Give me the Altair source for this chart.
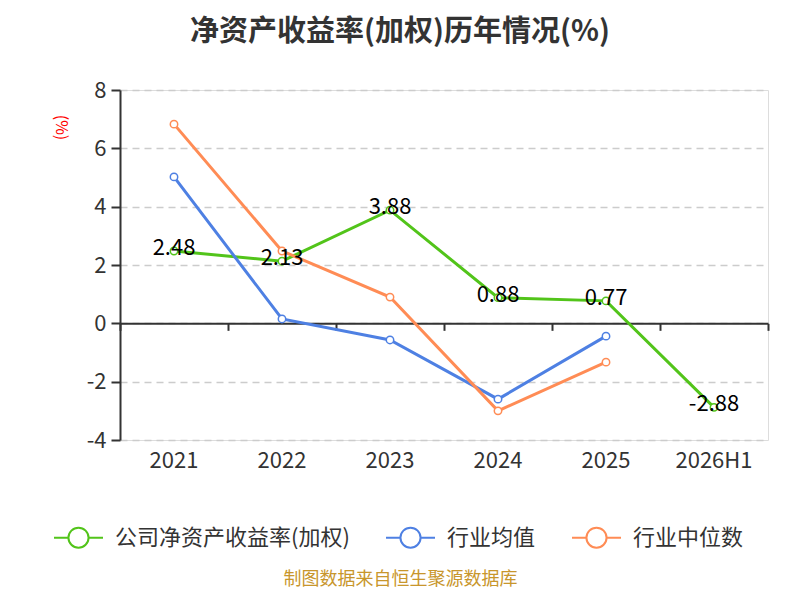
import altair as alt
import pandas as pd

periods = ["2021", "2022", "2023", "2024", "2025", "2026H1"]
series_names = ["公司净资产收益率(加权)", "行业均值", "行业中位数"]
company = [2.48, 2.13, 3.88, 0.88, 0.77, -2.88]
ind_avg = [5.02, 0.15, -0.57, -2.6, -0.44, None]
ind_med = [6.83, 2.48, 0.9, -3.0, -1.33, None]
colors = ["#52c41a", "#4e80e3", "#ff8c55"]

rows = []
for name, vals in zip(series_names, [company, ind_avg, ind_med]):
    for p, v in zip(periods, vals):
        if v is not None:
            rows.append({"period": p, "value": v, "series": name})
df = pd.DataFrame(rows)
lab = pd.DataFrame({"period": periods, "value": company,
                    "label": [f"{v:.2f}" for v in company]})

W, H = 648, 350
FONT = "Noto Sans CJK SC"

xscale = alt.Scale(type="band", domain=periods, paddingInner=0, paddingOuter=0)
yscale = alt.Scale(domain=[-4, 8], nice=False)
stroke = alt.Stroke("series:N", scale=alt.Scale(domain=series_names, range=colors),
                    legend=alt.Legend(
                        title=None, orient="none", direction="horizontal",
                        legendX=-67, legendY=422, padding=0,
                        symbolType="M-1,0H-0.41A0.41,0.41,0,1,0,0.41,0A0.41,0.41,0,1,0,-0.41,0M0.41,0H1",
                        symbolSize=2400, symbolStrokeWidth=2, symbolFillColor="white",
                        labelFontSize=22, labelColor="#333", labelFont=FONT,
                        labelLimit=0, labelOffset=11, columnPadding=32))

x_main = alt.X("period:N", scale=xscale, sort=periods,
               axis=alt.Axis(title="制图数据来自恒生聚源数据库", labelFontSize=22,
                             labelColor="#333", labelFont=FONT, labelAngle=0,
                             labelPadding=10, ticks=False, domain=False, grid=False,
                             titleFontSize=18, titleColor="#c8962c", titleFont=FONT,
                             titleFontWeight="normal", titleX=280, titleY=139,
                             titleAlign="center", titleBaseline="middle"))
y_main = alt.Y("value:Q", scale=yscale,
               axis=alt.Axis(values=[-4, -2, 0, 2, 4, 6, 8], title="(%)",
                             labelExpr="'' + datum.value",
                             titleColor="red", titleFontSize=16, titleFont=FONT,
                             titleFontWeight="normal", titleAngle=90,
                             titleX=-60, titleY=37, titleAlign="center",
                             titleBaseline="middle",
                             labelFontSize=22, labelColor="#333", labelFont=FONT,
                             labelPadding=5, tickSize=9, tickColor="#333", tickWidth=2,
                             domainColor="#333", domainWidth=2,
                             grid=True, gridColor="#cccccc", gridDash=[7, 5],
                             gridWidth=1.5))

lines = alt.Chart(df).mark_line(strokeWidth=3).encode(
    x=x_main, y=y_main, stroke=stroke, detail="series:N")
points = alt.Chart(df).mark_point(filled=False, fill="white", fillOpacity=1,
                                  size=55, strokeWidth=1.5, opacity=1).encode(
    x=alt.X("period:N", scale=xscale, sort=periods),
    y=alt.Y("value:Q", scale=yscale), stroke=alt.Stroke("series:N"))
labels = alt.Chart(lab).mark_text(fontSize=22, color="#000", font=FONT, dy=-3).encode(
    x=alt.X("period:N", scale=xscale, sort=periods),
    y=alt.Y("value:Q", scale=yscale), text="label:N")

zero_axis = alt.Chart(lab).mark_point(opacity=0).encode(
    x=alt.X("period:N", scale=xscale, sort=periods,
            axis=alt.Axis(orient="bottom", title=None, labels=False, domain=True,
                          ticks=True, tickBand="extent", tickSize=7, tickColor="#333",
                          tickWidth=2, domainColor="#333", domainWidth=2,
                          grid=False, offset=-(H * 4 / 12))),
    y=alt.Y("value:Q", scale=yscale))

main = alt.layer(lines, points, labels)
chart = alt.layer(main, zero_axis).resolve_axis(x="independent").properties(
    width=W, height=H,
    title=alt.Title("净资产收益率(加权)历年情况(%)", fontSize=29, font=FONT,
                    fontWeight="bold", color="#333", anchor="middle", dx=-44,
                    offset=32),
    autosize="none",
    padding={"left": 112, "top": 82, "right": 24, "bottom": 152},
).configure_view(stroke=None).configure(background="white")

chart.save("out.html", embed_options={"renderer": "svg", "actions": False})
